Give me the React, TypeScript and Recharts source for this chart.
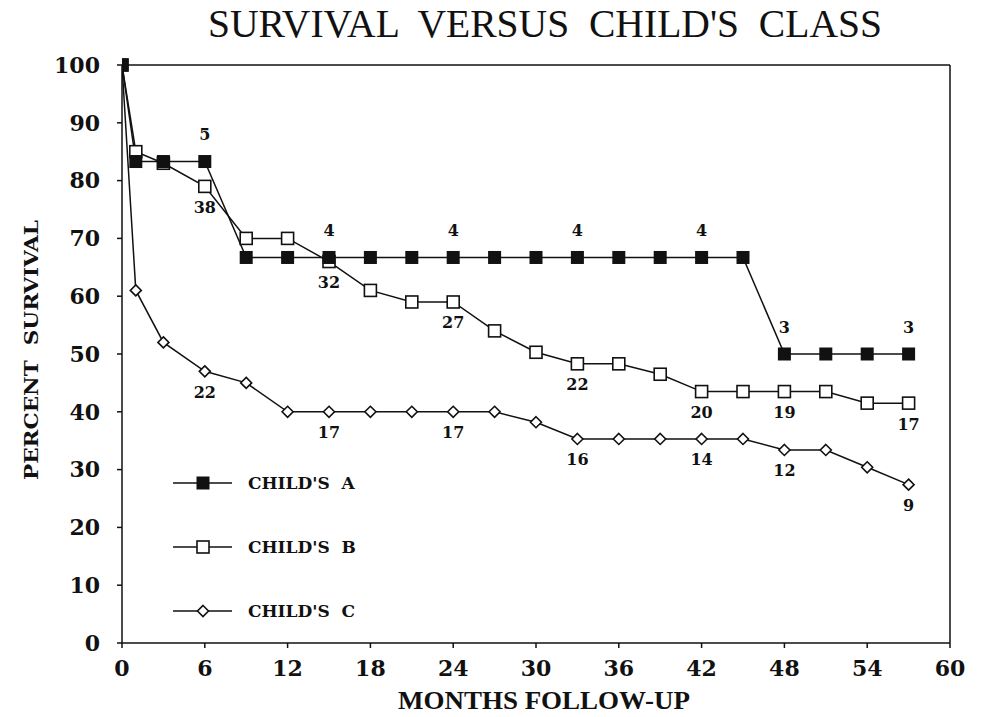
import React from "react";
import {
  LineChart,
  Line,
  XAxis,
  YAxis,
  ReferenceLine,
  LabelList,
  Legend,
} from "recharts";

// months of follow-up at which survival was recorded
const months = [0, 1, 3, 6, 9, 12, 15, 18, 21, 24, 27, 30, 33, 36, 39, 42, 45, 48, 51, 54, 57];

// percent survival per class
const childsA = [100, 83.3, 83.3, 83.3, 66.7, 66.7, 66.7, 66.7, 66.7, 66.7, 66.7, 66.7, 66.7, 66.7, 66.7, 66.7, 66.7, 50, 50, 50, 50];
const childsB = [100, 85, 83, 79, 70, 70, 66, 61, 59, 59, 54, 50.3, 48.3, 48.3, 46.5, 43.5, 43.5, 43.5, 43.5, 41.5, 41.5];
const childsC = [100, 61, 52, 47, 45, 40, 40, 40, 40, 40, 40, 38.2, 35.3, 35.3, 35.3, 35.3, 35.3, 33.4, 33.4, 30.4, 27.4];

// numbers at risk written next to the points
const atRiskA = ["", "", "", "5", "", "", "4", "", "", "4", "", "", "4", "", "", "4", "", "3", "", "", "3"];
const atRiskB = ["", "", "", "38", "", "", "32", "", "", "27", "", "", "22", "", "", "20", "", "19", "", "", "17"];
const atRiskC = ["", "", "", "22", "", "", "17", "", "", "17", "", "", "16", "", "", "14", "", "12", "", "", "9"];

const xTicks = [0, 6, 12, 18, 24, 30, 36, 42, 48, 54, 60];
const yTicks = [0, 10, 20, 30, 40, 50, 60, 70, 80, 90, 100];

const data = months.map((m, i) => ({
  month: m,
  a: childsA[i],
  b: childsB[i],
  c: childsC[i],
  aLabel: atRiskA[i],
  bLabel: atRiskB[i],
  cLabel: atRiskC[i],
}));

const INK = "#111";
const BOLD_SERIF = "'DejaVu Serif', serif";
const PLAIN_SERIF = "'Liberation Serif', serif";

const Marker = ({ kind, cx, cy }: { kind: string; cx: number; cy: number }) => {
  if (kind === "a") {
    return <rect x={cx - 6.5} y={cy - 6.5} width={13} height={13} fill={INK} />;
  }
  if (kind === "b") {
    return (
      <rect x={cx - 6} y={cy - 6} width={12} height={12} fill="#fff" stroke={INK} strokeWidth={1.6} />
    );
  }
  return (
    <path
      d={`M${cx},${cy - 5.5} L${cx + 5.5},${cy} L${cx},${cy + 5.5} L${cx - 5.5},${cy} Z`}
      fill="#fff"
      stroke={INK}
      strokeWidth={1.6}
    />
  );
};

const dotFor = (kind: string) => (props: any) => {
  const { cx, cy, index } = props;
  if (cx == null || cy == null) return <g key={`${kind}-${index}`} />;
  return (
    <g key={`${kind}-${index}`}>
      <Marker kind={kind} cx={cx} cy={cy} />
    </g>
  );
};

const labelFor = (dy: number) => (props: any) => {
  const { x, y, value, index } = props;
  if (!value) return null;
  return (
    <text
      key={`lbl-${index}`}
      x={x}
      y={y + dy}
      textAnchor="middle"
      dominantBaseline="central"
      fontFamily={BOLD_SERIF}
      fontWeight="bold"
      fontSize={16}
      fill={INK}
    >
      {value}
    </text>
  );
};

const LEGEND_KIND: Record<string, string> = {
  "CHILD'S A": "a",
  "CHILD'S B": "b",
  "CHILD'S C": "c",
};

const LegendBox = ({ payload }: any) => {
  const items = [...(payload || [])].sort((p: any, q: any) =>
    String(p.value).localeCompare(String(q.value))
  );
  return (
    <svg width={220} height={170}>
      {items.map((item: any, i: number) => {
        const y = 20 + i * 64;
        return (
          <g key={item.value}>
            <line x1={3} x2={62} y1={y} y2={y} stroke={INK} strokeWidth={1.5} />
            <Marker kind={LEGEND_KIND[item.value]} cx={33} cy={y} />
            <text
              x={78}
              y={y}
              dominantBaseline="central"
              fontFamily={BOLD_SERIF}
              fontWeight="bold"
              fontSize={17}
              fill={INK}
              style={{ whiteSpace: "pre" }}
            >
              {item.value.replace(" ", "  ")}
            </text>
          </g>
        );
      })}
    </svg>
  );
};

const tickStyle = { fontFamily: BOLD_SERIF, fontWeight: "bold", fontSize: 22, fill: INK };

export default function App() {
  return (
    <div style={{ position: "absolute", left: 0, top: 0, width: 982, height: 717, background: "#fff" }}>
      <LineChart
        width={982}
        height={717}
        data={data}
        margin={{ top: 65, right: 32, bottom: 44, left: 62 }}
      >
        <XAxis
          dataKey="month"
          type="number"
          domain={[0, 60]}
          ticks={xTicks}
          height={30}
          tickSize={5}
          tickMargin={12}
          tick={tickStyle}
          stroke={INK}
          strokeWidth={1.5}
          allowDataOverflow
        />
        <YAxis
          type="number"
          domain={[0, 100]}
          ticks={yTicks}
          width={60}
          tickSize={5}
          tickMargin={17}
          tick={tickStyle}
          stroke={INK}
          strokeWidth={1.5}
        />
        <ReferenceLine y={100} stroke={INK} strokeWidth={1.5} />
        <ReferenceLine x={60} stroke={INK} strokeWidth={1.5} />
        <Legend
          layout="vertical"
          align="center"
          verticalAlign="middle"
          wrapperStyle={{ left: 170, top: 463, width: 220, height: 170 }}
          content={<LegendBox />}
        />
        <Line
          name="CHILD'S C"
          dataKey="c"
          type="linear"
          stroke={INK}
          strokeWidth={1.5}
          dot={dotFor("c")}
          isAnimationActive={false}
        >
          <LabelList dataKey="cLabel" content={labelFor(21)} />
        </Line>
        <Line
          name="CHILD'S B"
          dataKey="b"
          type="linear"
          stroke={INK}
          strokeWidth={1.5}
          dot={dotFor("b")}
          isAnimationActive={false}
        >
          <LabelList dataKey="bLabel" content={labelFor(21)} />
        </Line>
        <Line
          name="CHILD'S A"
          dataKey="a"
          type="linear"
          stroke={INK}
          strokeWidth={1.5}
          dot={dotFor("a")}
          isAnimationActive={false}
        >
          <LabelList dataKey="aLabel" content={labelFor(-27)} />
        </Line>
      </LineChart>

      {/* titles drawn over the chart */}
      <svg
        width={982}
        height={717}
        style={{ position: "absolute", left: 0, top: 0, pointerEvents: "none" }}
      >
        <text
          x={545}
          y={37}
          textAnchor="middle"
          fontFamily={PLAIN_SERIF}
          fontSize={39}
          textLength={674}
          lengthAdjust="spacingAndGlyphs"
          fill={INK}
          style={{ whiteSpace: "pre" }}
        >
          {"SURVIVAL  VERSUS  CHILD'S  CLASS"}
        </text>
        <text
          x={544}
          y={709}
          textAnchor="middle"
          fontFamily={PLAIN_SERIF}
          fontWeight="bold"
          fontSize={26}
          textLength={292}
          lengthAdjust="spacingAndGlyphs"
          fill={INK}
        >
          MONTHS FOLLOW-UP
        </text>
        <text
          x={0}
          y={0}
          transform="translate(38,350) rotate(-90)"
          textAnchor="middle"
          fontFamily={BOLD_SERIF}
          fontWeight="bold"
          fontSize={19}
          textLength={260}
          lengthAdjust="spacingAndGlyphs"
          fill={INK}
          style={{ whiteSpace: "pre" }}
        >
          {"PERCENT  SURVIVAL"}
        </text>
      </svg>
    </div>
  );
}
